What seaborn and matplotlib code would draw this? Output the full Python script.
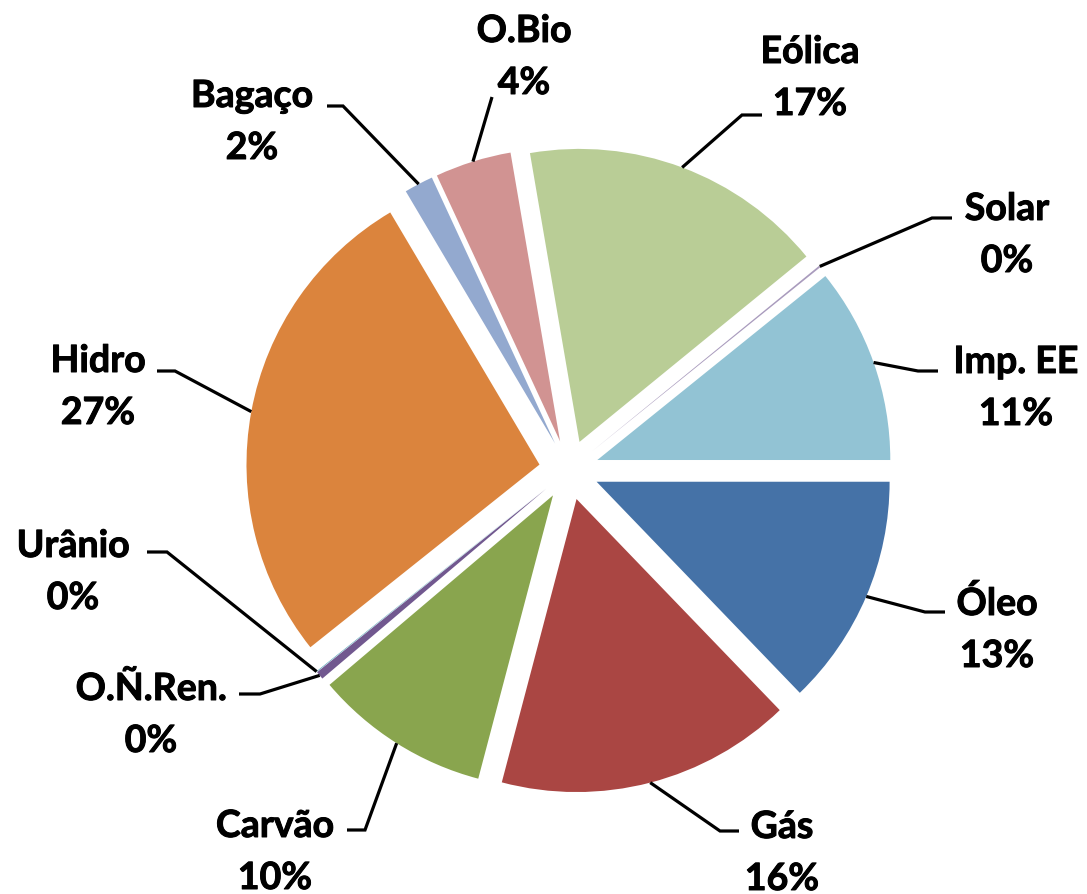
import matplotlib
matplotlib.use("Agg")
import matplotlib.pyplot as plt
import matplotlib.patheffects as pe
import seaborn as sns
import numpy as np

# matriz (%), clockwise from 3 o'clock
fontes = ['Óleo', 'Gás', 'Carvão', 'O.Ñ.Ren.', 'Urânio', 'Hidro',
          'Bagaço', 'O.Bio', 'Eólica', 'Solar', 'Imp. EE']
valores = [12.8, 16.3, 9.7, 0.45, 0.03, 27.2, 1.6, 4.2, 16.8, 0.1, 10.8]
cores = ['#4572A7', '#AA4643', '#89A54E', '#71588F', '#4198AF', '#DB843D',
         '#93A9CF', '#D19392', '#B9CD96', '#A99BBD', '#92C3D4']

# label layout in pixel units: text centre x, name baseline, kink, end of leader
layout = {
    'Óleo':     (997, 615, (925, 612), (945, 612)),
    'Gás':      (782, 838, (720, 831), (739, 831)),
    'Carvão':   (275, 837, (365, 830), (347, 830)),
    'O.Ñ.Ren.': (151, 700, (260, 694), (239, 694)),
    'Urânio':   (73, 557, (167, 552), (147, 552)),
    'Hidro':    (98, 372, (175, 371), (157, 371)),
    'Bagaço':   (252, 107, (343, 106), (327, 106)),
    'O.Bio':    (524, 42, (492, 97), (492, 97)),
    'Eólica':   (810, 63, (742, 115), (762, 115)),
    'Solar':    (1007, 220, (932, 218), (952, 218)),
    'Imp. EE':  (1016, 373, (918, 371), (938, 371)),
}

sns.set_theme(style="white")
plt.rcParams['font.family'] = ['Lato', 'DejaVu Sans']

W, H = 1087, 894
fig = plt.figure(figsize=(W / 100, H / 100), dpi=100)
ax = fig.add_axes([0, 0, 1, 1])

wedges, _ = ax.pie(valores, colors=sns.color_palette(cores), startangle=0,
                   counterclock=True, radius=293, center=(569, 470),
                   explode=[30] * len(valores),
                   wedgeprops=dict(linewidth=0))
ax.set_xlim(0, W)
ax.set_ylim(H, 0)
ax.axis('off')

# a thin outline makes Lato Bold look closer to the heavier original font
grosso = [pe.withStroke(linewidth=0.7, foreground='black')]

total = sum(valores)
for w, nome, v in zip(wedges, fontes, valores):
    cx, base, kink, end = layout[nome]
    th = np.deg2rad((w.theta1 + w.theta2) / 2)
    x0 = w.center[0] + w.r * np.cos(th)
    y0 = w.center[1] + w.r * np.sin(th)
    ax.plot([x0, kink[0], end[0]], [y0, kink[1], end[1]], color='black',
            lw=2.3, solid_capstyle='butt', solid_joinstyle='miter')
    ax.text(cx, base, nome, ha='center', va='baseline', fontsize=27,
            fontweight='bold', color='black', path_effects=grosso)
    ax.text(cx, base + 52, '%d%%' % round(v / total * 100), ha='center',
            va='baseline', fontsize=27, fontweight='bold', color='black',
            path_effects=grosso)

fig.savefig('out.png', dpi=100)
